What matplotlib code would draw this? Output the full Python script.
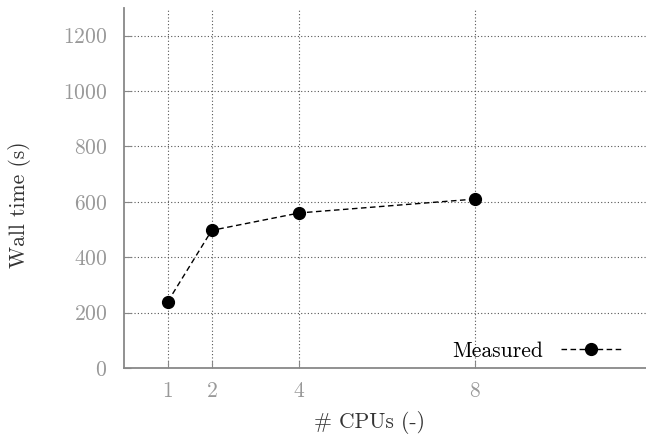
import matplotlib
matplotlib.use("Agg")
import matplotlib.pyplot as plt

cpus = [1, 2, 4, 8]
wall_time = [240, 497, 560, 610]
x_ticks = [1, 2, 4, 8]
y_ticks = [0, 200, 400, 600, 800, 1000, 1200]

plt.rcParams['font.family'] = ['cmr10', 'DejaVu Serif']
plt.rcParams['axes.formatter.use_mathtext'] = True

fig = plt.figure(figsize=(6.46, 4.36), dpi=100)
ax = fig.add_axes([124/646, 1-368/436, 1-124/646, 360/436])

ax.plot(cpus, wall_time, color='black', linestyle=(0, (4, 2.5)), linewidth=1,
        marker='o', markersize=8.5, label='Measured')

ax.set_xlim(0, 11.9)
ax.set_ylim(0, 1300)
ax.set_xticks(x_ticks)
ax.set_yticks(y_ticks)
ax.grid(True, linestyle=(0, (1, 2)), color='#555555', linewidth=0.8)

for s in ['top', 'right']:
    ax.spines[s].set_visible(False)
for s in ['left', 'bottom']:
    ax.spines[s].set_color('#888888')
    ax.spines[s].set_linewidth(1.3)

ax.tick_params(axis='both', direction='in', length=5, color='#888888',
               labelcolor='#999999', labelsize=15.5)
ax.tick_params(axis='x', pad=10)
ax.tick_params(axis='y', pad=12)

ax.set_xlabel('# CPUs (-)', fontsize=15.5, color='#333333')
ax.set_ylabel('Wall time (s)', fontsize=15.5, color='#333333')
ax.xaxis.label.set_va('center')
ax.yaxis.label.set_va('center')
ax.xaxis.set_label_coords((370-124)/522, -(422-368)/360, transform=ax.transAxes)
ax.yaxis.set_label_coords(-(124-20)/522, (368-205)/360, transform=ax.transAxes)

leg = ax.legend(loc='lower right', frameon=False, markerfirst=False,
                fontsize=15.5, handlelength=2.8, numpoints=1,
                bbox_to_anchor=(1-10/522, -8/360), borderaxespad=0.3)

fig.savefig('out.png', dpi=100)
